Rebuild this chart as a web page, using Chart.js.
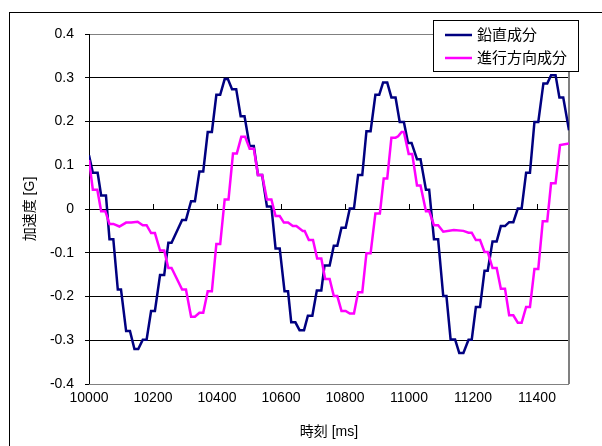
<!DOCTYPE html>
<html>
<head>
<meta charset="utf-8">
<script src="https://cdn.jsdelivr.net/npm/chart.js@4/dist/chart.umd.min.js"></script>
<style>
html,body{margin:0;padding:0;background:#fff;}
#wrap{width:602px;height:446px;position:relative;}
</style>
</head>
<body>
<div id="wrap"><canvas id="c" width="602" height="446"></canvas></div>
<script>
// ---- data ----
const seriesNames = ['鉛直成分', '進行方向成分'];
const xTickValues = [10000, 10200, 10400, 10600, 10800, 11000, 11200, 11400];
const yTickValues = [-0.4, -0.3, -0.2, -0.1, 0, 0.1, 0.2, 0.3, 0.4];
const xTitle = '時刻 [ms]';
const yTitle = '加速度 [G]';

const vertTime = [10000,10012,10027,10038,10053,10064,10076,10090,10100,10116,10128,10142,10154,10168,10180,10194,10206,10222,10235,10248,10258,10291,10303,10319,10331,10345,10357,10371,10384,10398,10410,10424,10434,10447,10460,10474,10486,10502,10515,10528,10541,10556,10570,10583,10596,10611,10622,10632,10645,10658,10672,10684,10698,10712,10726,10736,10752,10765,10776,10789,10802,10815,10828,10841,10854,10867,10880,10895,10907,10919,10932,10945,10958,10971,10984,10997,11008,11025,11036,11053,11063,11078,11091,11107,11117,11130,11144,11157,11170,11186,11196,11209,11222,11236,11246,11261,11274,11287,11300,11313,11326,11340,11352,11366,11378,11392,11404,11420,11432,11444,11458,11470,11482,11500];
const vertValue = [0.123,0.083,0.083,0.031,0.031,-0.069,-0.069,-0.184,-0.184,-0.279,-0.279,-0.320,-0.320,-0.299,-0.299,-0.233,-0.233,-0.151,-0.151,-0.077,-0.077,-0.025,-0.025,0.018,0.018,0.086,0.086,0.176,0.176,0.261,0.261,0.297,0.297,0.274,0.274,0.212,0.212,0.144,0.144,0.078,0.078,0.006,0.006,-0.090,-0.090,-0.188,-0.188,-0.259,-0.259,-0.277,-0.277,-0.244,-0.244,-0.186,-0.186,-0.129,-0.129,-0.084,-0.084,-0.043,-0.043,0.001,0.001,0.078,0.078,0.178,0.178,0.261,0.261,0.289,0.289,0.255,0.255,0.199,0.199,0.151,0.151,0.114,0.114,0.044,0.044,-0.069,-0.069,-0.199,-0.199,-0.298,-0.298,-0.329,-0.329,-0.299,-0.299,-0.224,-0.224,-0.141,-0.141,-0.074,-0.074,-0.039,-0.039,-0.030,-0.030,0.001,0.001,0.083,0.083,0.199,0.199,0.287,0.287,0.306,0.306,0.255,0.255,0.180];

const fwdTime = [10000,10012,10026,10038,10051,10064,10076,10095,10116,10132,10152,10168,10180,10194,10206,10222,10235,10248,10258,10291,10303,10319,10331,10345,10357,10371,10384,10398,10410,10424,10436,10450,10462,10476,10488,10502,10515,10528,10541,10556,10570,10583,10596,10609,10622,10637,10648,10668,10674,10687,10700,10713,10726,10738,10752,10765,10776,10789,10802,10815,10828,10841,10854,10867,10880,10895,10909,10921,10932,10945,10958,10966,10977,10984,10999,11010,11025,11036,11053,11063,11078,11091,11107,11140,11170,11186,11196,11209,11222,11236,11246,11261,11274,11287,11300,11313,11326,11340,11352,11366,11378,11392,11404,11418,11432,11444,11458,11472,11500];
const fwdValue = [0.112,0.044,0.044,-0.005,-0.005,-0.034,-0.034,-0.040,-0.031,-0.031,-0.029,-0.037,-0.037,-0.055,-0.055,-0.095,-0.095,-0.135,-0.135,-0.184,-0.184,-0.246,-0.246,-0.237,-0.237,-0.188,-0.188,-0.080,-0.080,0.022,0.022,0.127,0.127,0.165,0.165,0.138,0.138,0.078,0.078,0.022,0.022,-0.016,-0.016,-0.031,-0.031,-0.039,-0.039,-0.050,-0.050,-0.071,-0.071,-0.113,-0.113,-0.160,-0.160,-0.199,-0.199,-0.233,-0.233,-0.239,-0.239,-0.190,-0.190,-0.101,-0.101,-0.010,-0.010,0.070,0.070,0.163,0.163,0.166,0.176,0.176,0.126,0.126,0.054,0.054,-0.005,-0.005,-0.037,-0.037,-0.052,-0.048,-0.050,-0.054,-0.054,-0.071,-0.071,-0.098,-0.098,-0.135,-0.135,-0.182,-0.182,-0.243,-0.243,-0.260,-0.260,-0.224,-0.224,-0.137,-0.137,-0.028,-0.028,0.059,0.059,0.146,0.150];

// ---- styling ----
const FONT = '"Liberation Sans", "Noto Sans CJK JP", sans-serif';
const NAVY = '#000080';
const MAGENTA = '#FF00FF';

const framePlugin = {
  id: 'frame',
  beforeDraw(chart) {
    const ctx = chart.ctx;
    ctx.save();
    ctx.fillStyle = '#fff';
    ctx.fillRect(0, 0, chart.width, chart.height);
    ctx.strokeStyle = '#000';
    ctx.lineWidth = 1;
    ctx.strokeRect(9.5, 12.5, 800, 600);
    ctx.restore();
  },
  beforeDatasetsDraw(chart) {
    const {ctx, chartArea: a, scales} = chart;
    ctx.save();
    // plot area border (gray)
    ctx.strokeStyle = '#808080';
    ctx.lineWidth = 2;
    ctx.beginPath();
    ctx.moveTo(a.right, a.top);
    ctx.lineTo(a.right, a.bottom);
    ctx.stroke();
    ctx.lineWidth = 1;
    ctx.beginPath();
    ctx.moveTo(a.left, Math.round(a.bottom) + 0.5);
    ctx.lineTo(a.right, Math.round(a.bottom) + 0.5);
    ctx.stroke();
    // x-axis tick marks on the zero line
    const y0 = Math.round(scales.y.getPixelForValue(0));
    ctx.strokeStyle = '#000';
    ctx.lineWidth = 1;
    xTickValues.forEach(v => {
      const x = Math.round(scales.x.getPixelForValue(v)) + 0.5;
      ctx.beginPath();
      ctx.moveTo(x, y0);
      ctx.lineTo(x, y0 - 5);
      ctx.stroke();
    });
    ctx.restore();
  },
  afterDraw(chart) {
    const ctx = chart.ctx;
    ctx.save();
    const bx = 433.5, by = 20.5, bw = 145, bh = 51;
    ctx.fillStyle = '#fff';
    ctx.fillRect(bx, by, bw, bh);
    ctx.strokeStyle = '#000';
    ctx.lineWidth = 1;
    ctx.strokeRect(bx, by, bw, bh);
    ctx.font = '15px ' + FONT;
    ctx.textBaseline = 'middle';
    chart.data.datasets.forEach((ds, i) => {
      const y = 35 + i * 23;
      ctx.strokeStyle = ds.borderColor;
      ctx.lineWidth = 2.5;
      ctx.beginPath();
      ctx.moveTo(445, y);
      ctx.lineTo(472, y);
      ctx.stroke();
      ctx.fillStyle = '#000';
      ctx.fillText(ds.label, 477, y + 1);
    });
    ctx.restore();
  }
};

const pts = (xs, ys) => xs.map((x, i) => ({x: x, y: ys[i]}));

new Chart(document.getElementById('c'), {
  type: 'line',
  data: {
    datasets: [
      {label: seriesNames[0], data: pts(vertTime, vertValue), borderColor: NAVY, backgroundColor: NAVY,
       borderWidth: 2.5, pointRadius: 0, tension: 0, fill: false, order: 1},
      {label: seriesNames[1], data: pts(fwdTime, fwdValue), borderColor: MAGENTA, backgroundColor: MAGENTA,
       borderWidth: 2.5, pointRadius: 0, tension: 0, fill: false, order: 0}
    ]
  },
  options: {
    responsive: false,
    animation: false,
    events: [],
    layout: {padding: {top: 34, right: 33, left: 0, bottom: 0}},
    plugins: {legend: {display: false}, tooltip: {enabled: false}},
    scales: {
      x: {
        type: 'linear', min: 10000, max: 11500,
        afterBuildTicks: s => { s.ticks = xTickValues.map(v => ({value: v})); },
        afterFit: s => { s.height = 62; },
        grid: {display: false, drawTicks: false},
        border: {display: false},
        ticks: {autoSkip: false, maxRotation: 0, padding: 6, color: '#000',
                font: {family: FONT, size: 14}, callback: v => String(v)},
        title: {display: true, text: xTitle, color: '#000', font: {family: FONT, size: 14},
                padding: {top: 0, bottom: 5}}
      },
      y: {
        type: 'linear', min: -0.4, max: 0.4,
        afterBuildTicks: s => { s.ticks = yTickValues.map(v => ({value: v})); },
        afterFit: s => { s.width = 89; },
        grid: {
          color: c => (Math.abs(c.tick.value) > 0.35 ? '#808080' : '#000'),
          tickColor: '#000', tickLength: 4, lineWidth: 1
        },
        border: {display: true, color: '#000', width: 1},
        ticks: {padding: 11, color: '#000', font: {family: FONT, size: 14},
                callback: v => (Math.abs(v) < 1e-9 ? '0' : Number(v).toFixed(1))},
        title: {display: true, text: yTitle, color: '#000', font: {family: FONT, size: 14},
                padding: {top: 22, bottom: 0}}
      }
    }
  },
  plugins: [framePlugin]
});
</script>
</body>
</html>
